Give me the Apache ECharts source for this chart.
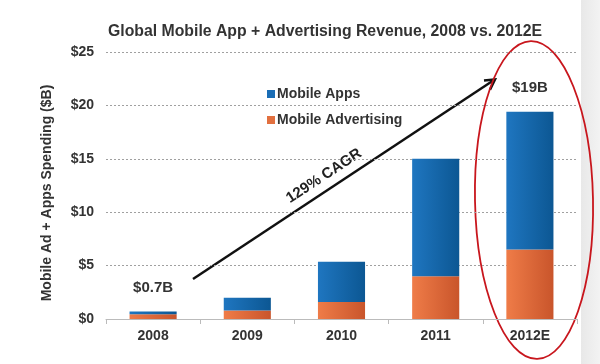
<!DOCTYPE html>
<html>
<head>
<meta charset="utf-8">
<script src="https://cdn.jsdelivr.net/npm/echarts@6/dist/echarts.min.js"></script>
<style>html,body{margin:0;padding:0;background:#fff}#c{width:600px;height:364px}</style>
</head>
<body>
<div id="c"></div>
<script>
var categories = ['2008', '2009', '2010', '2011', '2012E'];
var mobileAdvertising = [0.45, 0.8, 1.6, 4.0, 6.5];
var mobileApps = [0.25, 1.2, 3.75, 11.0, 12.9];
var topLabels = ['$0.7B', '', '', '', '$19B'];
var yTicks = [0, 5, 10, 15, 20, 25];

var FONT = '"Liberation Sans", Arial, sans-serif';
var chart = echarts.init(document.getElementById('c'), null, {renderer: 'canvas'});

function grad(c1, c2) {
  return new echarts.graphic.LinearGradient(0, 0, 1, 0, [{offset: 0, color: c1}, {offset: 1, color: c2}]);
}

var appsData = mobileApps.map(function (v, i) {
  return {
    value: v,
    label: {show: topLabels[i] !== '', formatter: topLabels[i]}
  };
});

var option = {
  animation: false,
  backgroundColor: '#ffffff',
  title: {
    text: 'Global Mobile App + Advertising Revenue, 2008 vs. 2012E',
    left: 103, top: 19,
    textStyle: {fontFamily: FONT, fontSize: 15.8, fontWeight: 'bold', color: '#333333'}
  },
  legend: {
    orient: 'vertical',
    left: 262, top: 82,
    itemWidth: 8, itemHeight: 8, itemGap: 12,
    icon: 'rect',
    data: [
      {name: 'Mobile Apps', itemStyle: {color: '#1a6db5'}},
      {name: 'Mobile Advertising', itemStyle: {color: '#e2703f'}}
    ],
    textStyle: {fontFamily: FONT, fontSize: 14, fontWeight: 'bold', color: '#333333', lineHeight: 14, padding: [0, 0, 0, -3]}
  },
  grid: {left: 106, right: 23, top: 52, bottom: 45, containLabel: false},
  xAxis: {
    type: 'category',
    data: categories,
    axisLine: {lineStyle: {color: '#bbbbbb', width: 1}},
    axisTick: {show: true, length: 5, lineStyle: {color: '#bbbbbb'}},
    axisLabel: {fontFamily: FONT, fontSize: 14, fontWeight: 'bold', color: '#333333', margin: 10}
  },
  yAxis: {
    type: 'value',
    min: yTicks[0], max: yTicks[yTicks.length - 1], interval: 5,
    name: 'Mobile Ad + Apps Spending ($B)',
    nameLocation: 'middle', nameRotate: 90, nameGap: 52,
    nameTextStyle: {fontFamily: FONT, fontSize: 14, fontWeight: 'bold', color: '#333333', padding: [0, 15, 0, 0]},
    axisLine: {show: false},
    axisTick: {show: false},
    axisLabel: {fontFamily: FONT, fontSize: 14, fontWeight: 'bold', color: '#333333', margin: 12,
      formatter: function (v) { return '$' + v; }},
    splitLine: {lineStyle: {color: '#a0a0a0', type: [2, 2], width: 1}}
  },
  series: [
    {
      name: 'Mobile Advertising',
      type: 'bar', stack: 'total', barWidth: '50%',
      itemStyle: {color: grad('#ef7c48', '#c9552b')},
      data: mobileAdvertising
    },
    {
      name: 'Mobile Apps',
      type: 'bar', stack: 'total', barWidth: '50%',
      itemStyle: {color: grad('#1f76c0', '#0c5793')},
      label: {position: 'top', distance: 16, fontFamily: FONT, fontSize: 15, fontWeight: 'bold', color: '#333333'},
      data: appsData
    }
  ],
  graphic: [
    {type: 'rect', shape: {x: 581, y: 0, width: 19, height: 364}, z: -10,
      style: {fill: new echarts.graphic.LinearGradient(0, 0, 1, 0, [{offset: 0, color: '#e8e8e8'}, {offset: 1, color: '#f3f3f3'}])}},
    {type: 'group', z: 100, children: [
      {type: 'line', shape: {x1: 193, y1: 279, x2: 494, y2: 80}, style: {stroke: '#111111', lineWidth: 2.5}},
      {type: 'polyline', shape: {points: [[484, 80.6], [495, 79.5], [490, 89.8]]}, style: {stroke: '#111111', lineWidth: 2.5, fill: null, lineJoin: 'miter'}},
      {type: 'text', x: 324, y: 176, rotation: 0.583,
        style: {text: '129% CAGR', font: 'bold 15px ' + FONT, fill: '#222222', align: 'center', verticalAlign: 'middle'}},
      {type: 'ellipse', shape: {cx: 534, cy: 200, rx: 59, ry: 159}, rotation: 0.02, originX: 534, originY: 200,
        style: {stroke: '#c8161d', lineWidth: 1.8, fill: null}}
    ]}
  ]
};
chart.setOption(option);
</script>
</body>
</html>
